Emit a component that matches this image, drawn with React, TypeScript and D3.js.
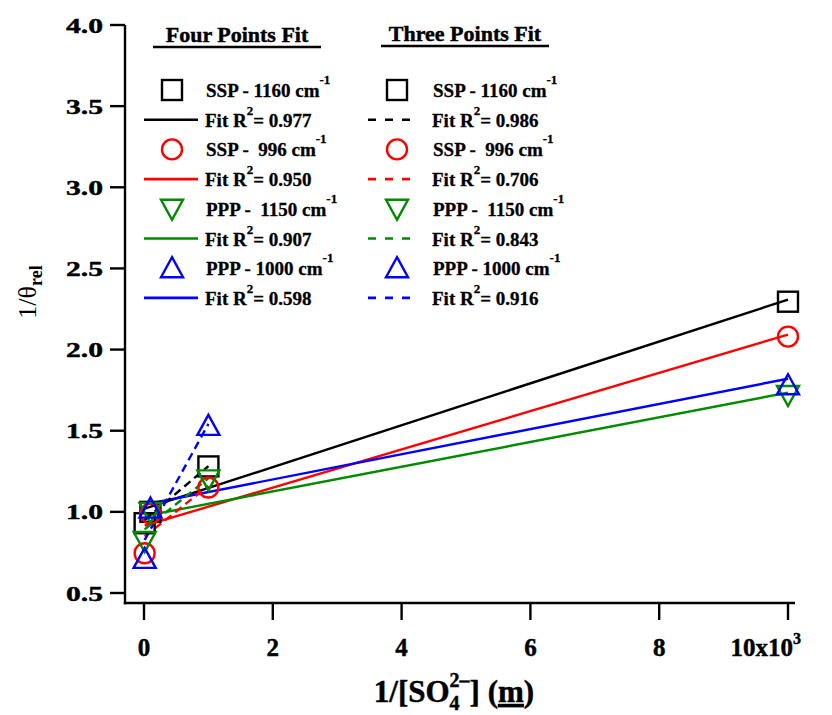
import React from "react";
import * as d3 from "d3";

// ---- data ----
const xValues = [10, 100, 1000, 10000];
const seriesNames = ["SSP - 1160 cm", "SSP -  996 cm", "PPP -  1150 cm", "PPP - 1000 cm"];
const ssp1160 = [0.93, 1.0, 1.28, 2.295];
const ssp996 = [0.745, 0.99, 1.15, 2.08];
const ppp1150 = [0.82, 1.0, 1.2, 1.72];
const ppp1000 = [0.71, 1.02, 1.53, 1.78];
const fourPointR2 = ["0.977", "0.950", "0.907", "0.598"];
const threePointR2 = ["0.986", "0.706", "0.843", "0.916"];
const yTicks = [0.5, 1.0, 1.5, 2.0, 2.5, 3.0, 3.5, 4.0];
const xTicks = [0, 2000, 4000, 6000, 8000, 10000];
const xTickLabels = ["0", "2", "4", "6", "8", "10x10"];

const seriesValues = [ssp1160, ssp996, ppp1150, ppp1000];
const colors = ["#000000", "#ff0000", "#008a00", "#0000ff"];
const markers = ["square", "circle", "tdown", "tup"];

const FONT = "'Liberation Serif', 'Times New Roman', serif";
const boldStroke = { stroke: "#000", strokeWidth: 0.45 };

function fit(xs: number[], ys: number[]) {
  const mx = d3.mean(xs)!;
  const my = d3.mean(ys)!;
  let sxy = 0, sxx = 0;
  xs.forEach((xv, i) => {
    sxy += (xv - mx) * (ys[i] - my);
    sxx += (xv - mx) * (xv - mx);
  });
  const slope = sxy / sxx;
  return { slope, intercept: my - slope * mx };
}

function Marker({ type, cx, cy, color }: { type: string; cx: number; cy: number; color: string }) {
  const sw = 2.4;
  if (type === "square")
    return <rect x={cx - 10} y={cy - 10} width={20} height={20} fill="none" stroke={color} strokeWidth={sw} />;
  if (type === "circle") return <circle cx={cx} cy={cy} r={10} fill="none" stroke={color} strokeWidth={sw} />;
  if (type === "tup")
    return (
      <polygon
        points={`${cx},${cy - 11} ${cx + 11},${cy + 9} ${cx - 11},${cy + 9}`}
        fill="none"
        stroke={color}
        strokeWidth={sw}
      />
    );
  return (
    <polygon
      points={`${cx},${cy + 11} ${cx + 11},${cy - 9} ${cx - 11},${cy - 9}`}
      fill="none"
      stroke={color}
      strokeWidth={sw}
    />
  );
}

export default function App() {
  const W = 832, H = 715;
  const x = d3.scaleLinear().domain([0, 10000]).range([144, 788]);
  const y = d3.scaleLinear().domain([0.5, 4]).range([593, 25]);
  const axisX = 125, axisY = 603;

  const fits4 = seriesValues.map((ys) => fit(xValues, ys));
  const fits3 = seriesValues.map((ys) => fit(xValues.slice(0, 3), ys.slice(0, 3)));
  const line = d3.line<[number, number]>().x((d) => x(d[0])).y((d) => y(d[1]));

  const rowY = (i: number) => 90 + i * 29.7;
  const legendCols = [
    { title: "Four Points Fit", tx: 237, ty: 42, ux1: 153, ux2: 321, uy: 47, mx: 172, lx1: 144, lx2: 198, textX: 206, r2: fourPointR2, dash: undefined as string | undefined },
    { title: "Three Points Fit", tx: 465, ty: 41, ux1: 381, ux2: 549, uy: 46, mx: 397, lx1: 368, lx2: 415, textX: 433, r2: threePointR2, dash: "8,9" },
  ];

  return (
    <svg width={W} height={H} style={{ position: "absolute", left: 0, top: 0, background: "#fff" }} fontFamily={FONT}>
      {/* fit lines */}
      {fits4.map((f, i) => (
        <path
          key={"f4" + i}
          d={line([
            [xValues[0], f.intercept + f.slope * xValues[0]],
            [xValues[3], f.intercept + f.slope * xValues[3]],
          ])!}
          stroke={colors[i]}
          strokeWidth={2.4}
          fill="none"
        />
      ))}
      {fits3.map((f, i) => (
        <path
          key={"f3" + i}
          d={line([
            [xValues[0], f.intercept + f.slope * xValues[0]],
            [xValues[2], f.intercept + f.slope * xValues[2]],
          ])!}
          stroke={colors[i]}
          strokeWidth={2.4}
          strokeDasharray="8,5"
          fill="none"
        />
      ))}
      {/* markers */}
      {seriesValues.map((ys, i) =>
        ys.map((v, j) => <Marker key={`m${i}-${j}`} type={markers[i]} cx={x(xValues[j])} cy={y(v)} color={colors[i]} />)
      )}

      {/* axes */}
      <line x1={axisX} x2={axisX} y1={y(4)} y2={axisY + 1.2} stroke="#000" strokeWidth={2.4} />
      <line x1={axisX - 1.2} x2={795} y1={axisY} y2={axisY} stroke="#000" strokeWidth={2.4} />
      {yTicks.map((t) => (
        <g key={"yt" + t}>
          <line x1={axisX - 15} x2={axisX} y1={y(t)} y2={y(t)} stroke="#000" strokeWidth={2.4} />
          <text
            x={103}
            y={y(t) + 7.5}
            textAnchor="end"
            fontWeight="bold"
            fontSize={22}
            textLength={37}
            lengthAdjust="spacingAndGlyphs"
            {...boldStroke}
          >
            {t.toFixed(1)}
          </text>
        </g>
      ))}
      {xTicks.map((t, i) => (
        <g key={"xt" + t}>
          <line x1={x(t)} x2={x(t)} y1={axisY} y2={axisY + 17} stroke="#000" strokeWidth={2.4} />
          {i < xTicks.length - 1 ? (
            <text x={x(t)} y={656} textAnchor="middle" fontWeight="bold" fontSize={25} {...boldStroke}>
              {xTickLabels[i]}
            </text>
          ) : (
            <text x={801} y={656} textAnchor="end" fontWeight="bold" fontSize={25} {...boldStroke}>
              {xTickLabels[i]}
              <tspan fontSize={16} dy={-12}>3</tspan>
            </text>
          )}
        </g>
      ))}

      {/* axis titles */}
      <text x={454} y={702} textAnchor="middle" fontWeight="bold" fontSize={31} {...boldStroke}>
        1/[SO
        <tspan fontSize={20} dy={8}>4</tspan>
        <tspan fontSize={20} dy={-23} dx={-10}>2–</tspan>
        <tspan dy={15}>] (</tspan>
        <tspan textDecoration="underline">m</tspan>
        <tspan>)</tspan>
      </text>
      <text transform="translate(36,292) rotate(-90)" textAnchor="middle" fontSize={26}>
        1/θ
        <tspan fontSize={18} dy={6} fontWeight="bold">rel</tspan>
      </text>

      {/* legend */}
      {legendCols.map((c, ci) => (
        <g key={"lc" + ci}>
          <text x={c.tx} y={c.ty} textAnchor="middle" fontWeight="bold" fontSize={22} {...boldStroke}>
            {c.title}
          </text>
          <line x1={c.ux1} x2={c.ux2} y1={c.uy} y2={c.uy} stroke="#000" strokeWidth={2.5} />
          {seriesNames.map((name, i) => (
            <g key={"lr" + i}>
              <Marker type={markers[i]} cx={c.mx} cy={rowY(2 * i)} color={colors[i]} />
              <text
                x={c.textX}
                y={rowY(2 * i) + 7}
                fontWeight="bold"
                fontSize={19}
                style={{ whiteSpace: "pre" }}
                stroke="#000"
                strokeWidth={0.3}
              >
                {name}
                <tspan fontSize={13} dy={-13}>-1</tspan>
              </text>
              <line
                x1={c.lx1}
                x2={c.lx2}
                y1={rowY(2 * i + 1)}
                y2={rowY(2 * i + 1)}
                stroke={colors[i]}
                strokeWidth={2.6}
                strokeDasharray={c.dash}
              />
              <text
                x={c.textX - 1}
                y={rowY(2 * i + 1) + 7}
                fontWeight="bold"
                fontSize={19}
                stroke="#000"
                strokeWidth={0.3}
              >
                Fit R
                <tspan fontSize={13} dy={-12}>2</tspan>
                <tspan dy={12}>= {c.r2[i]}</tspan>
              </text>
            </g>
          ))}
        </g>
      ))}
    </svg>
  );
}
